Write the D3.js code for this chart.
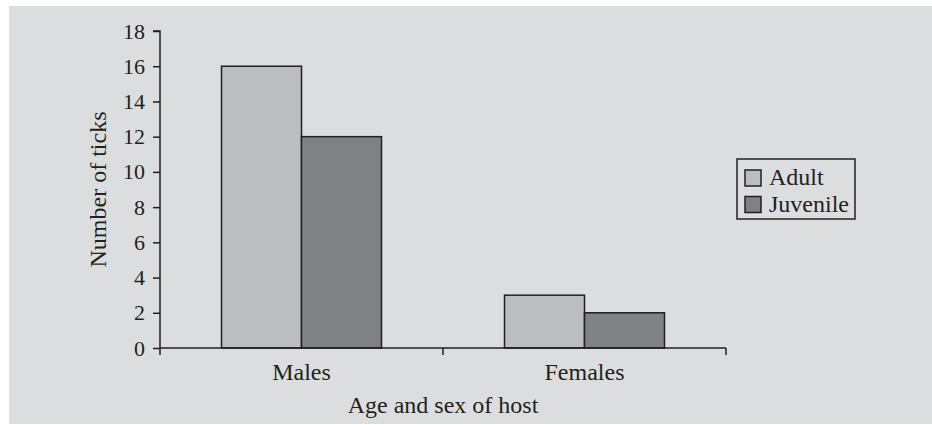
<!DOCTYPE html>
<html><head><meta charset="utf-8">
<script src="https://cdn.jsdelivr.net/npm/d3@7"></script>
<style>
html,body{margin:0;padding:0;background:#fff;}
svg{display:block;}
text{font-family:"Liberation Serif","Times New Roman",serif;fill:#231f20;}
</style></head>
<body>
<script>
const categories = ["Males", "Females"];
const seriesNames = ["Adult", "Juvenile"];
const adultValues = [16, 3];
const juvenileValues = [12, 2];
const yTicks = [0, 2, 4, 6, 8, 10, 12, 14, 16, 18];
const xTitle = "Age and sex of host";
const yTitle = "Number of ticks";
const colors = ["#bcbdc1", "#808184"];

const W = 932, H = 425;
const ink = "#231f20";
const svg = d3.select("body").append("svg").attr("width", W).attr("height", H);

svg.append("rect").attr("x", 9).attr("y", 6).attr("width", W - 9).attr("height", 418).attr("fill", "#dcdddf");

const pL = 160, pR = 726, pT = 31, pB = 348;
const x0 = d3.scaleBand().domain(categories).range([pL, pR]).padding(0);
const x1 = d3.scaleBand().domain(seriesNames).range([0, x0.bandwidth()]).paddingInner(0).paddingOuter(0.769);
const y = d3.scaleLinear().domain([0, 18]).range([pB, pT]);

const data = categories.map((c, i) => ({cat: c, vals: [adultValues[i], juvenileValues[i]]}));

const g = svg.append("g");
g.selectAll("g.grp").data(data).join("g").attr("class", "grp")
  .attr("transform", d => `translate(${x0(d.cat)},0)`)
  .selectAll("rect").data(d => d.vals.map((v, j) => ({s: seriesNames[j], v, j})))
  .join("rect")
  .attr("x", d => x1(d.s)).attr("width", x1.bandwidth())
  .attr("y", d => y(d.v)).attr("height", d => y(0) - y(d.v))
  .attr("fill", d => colors[d.j]).attr("stroke", ink).attr("stroke-width", 1.5);

// Y axis
const yAxis = d3.axisLeft(y).tickValues(yTicks).tickSize(7).tickPadding(8).tickFormat(d3.format("d"));
const ya = svg.append("g").attr("transform", `translate(${pL},0)`).call(yAxis);
ya.select(".domain").attr("stroke", ink).attr("stroke-width", 1.5).attr("d", `M-7,${pT}H0V${pB}`);
ya.selectAll(".tick line").attr("stroke", ink).attr("stroke-width", 1.5);
ya.selectAll(".tick text").attr("font-size", 22).attr("font-family", "Liberation Serif").attr("fill", ink);

// X axis
const xa = svg.append("g").attr("transform", `translate(0,${pB})`);
xa.append("line").attr("x1", pL).attr("x2", pR).attr("y1", 0).attr("y2", 0).attr("stroke", ink).attr("stroke-width", 1.5);
const bounds = [pL].concat(categories.map(c => x0(c) + x0.bandwidth()));
xa.selectAll("line.tk").data(bounds).join("line").attr("class", "tk")
  .attr("x1", d => d).attr("x2", d => d).attr("y1", 0).attr("y2", 7).attr("stroke", ink).attr("stroke-width", 1.5);
xa.selectAll("text.cat").data(categories).join("text").attr("class", "cat")
  .attr("x", d => x0(d) + x0.bandwidth() / 2).attr("y", 32).attr("text-anchor", "middle").attr("font-size", 24).text(d => d);

svg.append("text").attr("x", (pL + pR) / 2).attr("y", 413).attr("text-anchor", "middle").attr("font-size", 24).text(xTitle);
svg.append("text").attr("transform", `translate(106,${(pT + pB) / 2}) rotate(-90)`).attr("text-anchor", "middle").attr("font-size", 24).text(yTitle);

// Legend
const lg = svg.append("g");
lg.append("rect").attr("x", 737).attr("y", 159).attr("width", 118).attr("height", 60).attr("fill", "none").attr("stroke", ink).attr("stroke-width", 1.5);
const li = lg.selectAll("g.li").data(seriesNames).join("g").attr("class", "li")
  .attr("transform", (d, i) => `translate(745,${170 + i * 26.5})`);
li.append("rect").attr("width", 16).attr("height", 16).attr("fill", (d, i) => colors[i]).attr("stroke", ink).attr("stroke-width", 1.5);
li.append("text").attr("x", 24).attr("y", 15).attr("font-size", 24).text(d => d);
</script>
</body></html>
